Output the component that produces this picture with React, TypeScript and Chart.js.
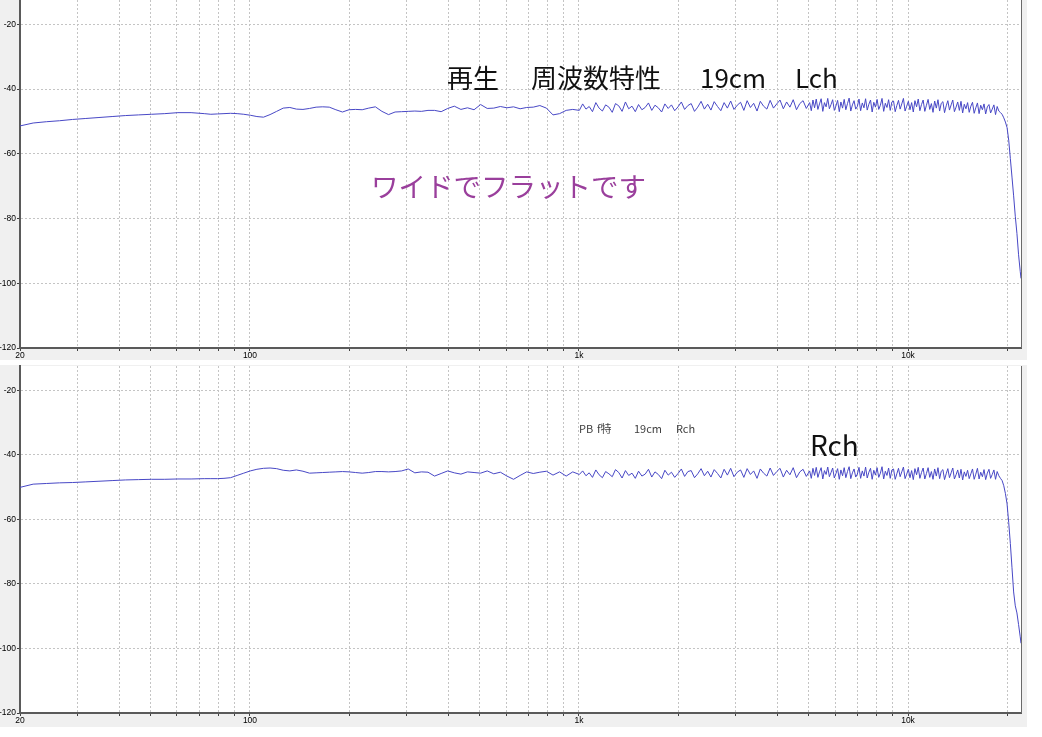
import React, { useEffect, useRef } from "react";
import { Chart, registerables } from "chart.js";

Chart.register(...registerables);

// Frequencies (Hz) shared by both channels
const FREQ_HZ = [
  20, 21.93, 24.05, 26.37, 28.91, 31.7, 34.76, 38.11, 41.79, 45.82, 50.24, 55.08, 60.4, 66.23, 72.62,
  76.04, 79.62, 83.37, 87.3, 91.42, 95.73, 100.24, 104.96, 109.91, 115.09, 120.51, 126.19, 132.14, 138.37,
  144.89, 151.72, 158.87, 166.35, 174.19, 182.4, 191, 200,
  209.4, 219.3, 229.6, 240.5, 251.8, 263.7, 276.1, 289.1, 302.7, 317,
  331.9, 347.6, 363.9, 381.1, 399.1, 417.9, 437.6, 458.2, 479.8, 502.4,
  526.1, 550.8, 576.8, 604, 632.5, 662.3, 693.5, 726.2, 760.4, 796.2,
  833.7, 873, 914.2, 957.3, 1002.4,
  1026, 1050, 1074, 1099, 1125, 1151, 1178, 1205, 1233, 1262,
  1291, 1321, 1352, 1384, 1416, 1449, 1483, 1517, 1553, 1589,
  1626, 1664, 1702, 1742, 1783, 1824, 1867, 1910, 1954, 2000,
  2047, 2094, 2143, 2193, 2244, 2296, 2350, 2405, 2461, 2518,
  2576, 2637, 2698, 2761, 2825, 2891, 2958, 3027, 3098, 3170,
  3244, 3319, 3396, 3476, 3557, 3639, 3724, 3811, 3900, 3991,
  4083, 4179, 4276, 4376, 4478, 4582, 4689, 4798, 4909, 5024,
  5082, 5141, 5200, 5261, 5322, 5383, 5445, 5508, 5572, 5637,
  5702, 5768, 5835, 5902, 5971, 6040, 6110, 6181, 6252, 6325,
  6398, 6472, 6547, 6623, 6699, 6777, 6855, 6935, 7015, 7096,
  7178, 7262, 7346, 7431, 7517, 7604, 7692, 7781, 7871, 7962,
  8054, 8148, 8242, 8337, 8434, 8532, 8630, 8730, 8831, 8934,
  9037, 9142, 9248, 9355, 9463, 9573, 9684, 9796, 9909, 10024,
  10140, 10257, 10376, 10496, 10618, 10741, 10865, 10991, 11118, 11247,
  11377, 11509, 11642, 11777, 11913, 12051, 12191, 12332, 12475, 12619,
  12765, 12913, 13063, 13214, 13367, 13522, 13678, 13837, 13997, 14159,
  14323, 14489, 14657, 14826, 14998, 15172, 15347, 15525, 15705, 15887,
  16071, 16257, 16445, 16635, 16828, 17023, 17220, 17419, 17621, 17825,
  18031, 18240, 18451, 18665, 18881, 19100,
  19321, 19545, 19771, 20000, 20232, 20466, 20703, 20942, 21185, 21430, 21678, 21930, 22050,
];

// Lch level (dB)
const LCH_DB = [
  -51.4, -50.5, -50.1, -49.8, -49.4, -49.1, -48.8, -48.5, -48.2, -48.0, -47.8, -47.6, -47.3, -47.3, -47.6,
  -47.8, -47.7, -47.6, -47.5, -47.6, -47.8, -48.1, -48.5, -48.7, -47.9, -46.9, -45.9, -45.7, -46.2,
  -46.3, -46.0, -45.6, -45.5, -45.6, -46.4, -47.1, -46.4,
  -46.3, -46.4, -45.9, -45.5, -46.9, -47.9, -47.1, -47.0, -46.9, -46.8,
  -46.9, -46.6, -46.6, -47.0, -46.0, -45.3, -46.3, -45.8, -46.4, -44.8,
  -46.0, -45.9, -45.4, -45.8, -45.5, -46.1, -45.7, -45.6, -45.1, -45.9,
  -48.0, -47.6, -46.6, -46.3, -46.6,
  -44.6, -46.2, -45.4, -47.0, -44.2, -45.9, -46.8, -44.9, -45.6, -47.2,
  -44.5, -45.2, -46.9, -44.0, -46.1, -45.3, -47.0, -44.8, -46.4, -45.7,
  -44.3, -46.6, -45.0, -45.8, -47.1, -44.6, -46.0, -44.9, -46.7, -45.5,
  -44.0, -46.3, -45.1, -44.5, -46.9, -45.6, -43.8, -46.2, -44.7, -46.5,
  -43.9, -45.4, -46.7, -44.2, -45.9, -43.7, -46.3, -45.0, -44.1, -46.6,
  -43.6, -45.7, -44.4, -46.8, -43.8, -45.3, -46.2, -43.5, -45.9, -44.6,
  -43.4, -46.1, -44.0, -45.6, -43.3, -46.4, -44.5, -43.6, -46.0, -44.2,
  -46.7, -43.4, -45.8, -43.1, -46.3, -44.6, -43.0, -46.9, -44.2, -45.5,
  -42.9, -46.1, -44.8, -43.3, -46.6, -45.2, -43.5, -47.0, -44.0, -45.9,
  -43.2, -46.4, -44.5, -42.8, -46.8, -44.9, -43.6, -46.2, -45.4, -43.1,
  -46.7, -44.3, -45.8, -43.0, -46.5, -44.7, -43.4, -47.1, -44.1, -45.6,
  -43.2, -46.3, -45.0, -42.9, -46.9, -44.4, -45.7, -43.3, -46.6, -44.0,
  -43.7, -47.0, -45.1, -43.5, -46.2, -44.6, -42.9, -46.8, -45.3, -43.8,
  -46.4, -44.2, -47.1, -43.6, -45.5, -43.1, -46.7, -44.8, -43.4, -46.9,
  -45.0, -43.2, -46.3, -44.5, -47.2, -43.7, -45.9, -43.3, -46.8, -44.4,
  -43.9, -47.3, -45.2, -43.6, -46.5, -44.9, -43.4, -47.0, -45.6, -44.0,
  -46.6, -43.8, -47.4, -44.7, -46.1, -44.2, -47.2, -45.3, -44.1, -47.5,
  -45.8, -44.3, -47.6, -45.0, -46.4, -44.6, -47.7, -45.5, -44.8, -47.4,
  -46.2, -44.9, -47.9, -45.4, -46.8, -47.3,
  -47.8, -48.9, -50.2, -51.9, -55.8, -61.5, -67.2, -73.0, -79.3, -84.6, -91.2, -96.3, -98.5,
];

// Rch level (dB)
const RCH_DB = [
  -50.1, -49.1, -48.9, -48.7, -48.6, -48.4, -48.2, -48.0, -47.8, -47.7, -47.6, -47.6, -47.5, -47.5, -47.4,
  -47.4, -47.4, -47.3, -47.1, -46.4, -45.7, -45.0, -44.5, -44.2, -44.1, -44.3, -44.8, -45.0, -44.7,
  -45.1, -45.7, -45.6, -45.5, -45.4, -45.3, -45.2, -45.3,
  -45.5, -45.7, -45.5, -45.2, -45.2, -45.3, -45.2, -45.0, -44.4, -45.6,
  -45.3, -45.4, -46.6, -45.8, -45.0, -45.6, -46.0, -45.3, -45.5, -45.7,
  -45.0, -45.9, -45.4, -46.6, -47.6, -46.4, -45.3, -45.8, -45.4, -45.1,
  -46.3, -45.3, -46.6, -45.3, -46.1,
  -45.0, -46.5, -45.6, -47.0, -44.7, -46.2, -47.1, -45.2, -45.9, -46.8,
  -44.6, -45.5, -47.2, -44.9, -46.4, -45.7, -47.3, -45.1, -46.6, -46.0,
  -44.5, -46.9, -45.3, -46.1, -47.4, -44.8, -46.3, -45.4, -47.0, -45.8,
  -44.4, -46.7, -45.2, -44.9, -47.1, -45.9, -44.3, -46.5, -45.1, -46.9,
  -44.6, -45.8, -47.2, -44.5, -46.3, -44.2, -46.8, -45.4, -44.7, -47.0,
  -44.3, -46.1, -45.0, -47.3, -44.4, -45.7, -46.6, -44.1, -46.4, -45.2,
  -44.2, -46.9, -44.8, -46.2, -44.0, -47.1, -45.3, -44.5, -46.7, -45.0,
  -47.3, -44.2, -46.4, -43.9, -47.0, -45.3, -44.0, -47.5, -44.9, -46.1,
  -43.8, -46.8, -45.5, -44.1, -47.2, -45.8, -44.3, -47.6, -44.7, -46.5,
  -44.0, -47.1, -45.2, -43.7, -47.4, -45.6, -44.4, -46.9, -46.0, -43.9,
  -47.3, -45.0, -46.6, -43.8, -47.2, -45.4, -44.2, -47.6, -44.8, -46.3,
  -44.0, -47.0, -45.7, -43.7, -47.5, -45.1, -46.4, -44.1, -47.3, -44.7,
  -44.4, -47.6, -45.9, -44.2, -46.8, -45.3, -43.8, -47.4, -46.0, -44.5,
  -47.1, -44.9, -47.7, -44.3, -46.2, -43.9, -47.3, -45.5, -44.1, -47.5,
  -45.8, -44.0, -47.0, -45.2, -47.6, -44.4, -46.6, -44.0, -47.4, -45.1,
  -44.6, -47.7, -45.9, -44.3, -47.1, -45.6, -44.1, -47.5, -46.2, -44.7,
  -47.2, -44.5, -47.8, -45.3, -46.7, -44.8, -47.4, -45.9, -44.4, -47.6,
  -46.0, -44.2, -47.5, -45.4, -46.8, -44.6, -47.7, -45.7, -44.5, -47.3,
  -46.1, -44.7, -47.6, -45.2, -46.5, -47.3,
  -48.0, -49.6, -52.0, -55.2, -61.0, -67.5, -75.0, -82.5, -86.8, -89.0, -92.6, -96.4, -98.4,
];

// Axis ticks / grid
const GRID_FREQS = [
  20, 30, 40, 50, 60, 70, 80, 90, 100, 200, 300, 400, 500, 600, 700, 800, 900,
  1000, 2000, 3000, 4000, 5000, 6000, 7000, 8000, 9000, 10000, 20000,
];
const X_LABEL_VALUES = [20, 100, 1000, 10000];
const X_LABEL_TEXT = ["20", "100", "1k", "10k"];
const Y_TICKS = [-120, -100, -80, -60, -40, -20];
const X_MIN = 20;
const X_MAX = 22050;
const Y_MIN = -120;
const Y_MAX = -12.5;

type Note = { text: string; x: number; y: number; size: number; color: string };

const CJK_FONT = '"Noto Sans CJK JP", "Noto Sans", sans-serif';

const TOP_NOTES: Note[] = [
  { text: "再生", x: 447, y: 88, size: 26, color: "#111111" },
  { text: "周波数特性", x: 531, y: 88, size: 26, color: "#111111" },
  { text: "19cm", x: 700, y: 88, size: 26, color: "#111111" },
  { text: "Lch", x: 795, y: 88, size: 26, color: "#111111" },
  { text: "ワイドでフラットです", x: 371, y: 197, size: 27.5, color: "#9a3f9c" },
];

const BOTTOM_NOTES: Note[] = [
  { text: "PB", x: 579, y: 68, size: 11, color: "#404040" },
  { text: "f特", x: 597, y: 68, size: 11, color: "#404040" },
  { text: "19cm", x: 634, y: 68, size: 11, color: "#404040" },
  { text: "Rch", x: 676, y: 68, size: 11, color: "#404040" },
  { text: "Rch", x: 810, y: 91, size: 28, color: "#111111" },
];

function makeChart(
  canvas: HTMLCanvasElement,
  values: number[],
  padTop: number,
  axisHeight: number,
  notes: Note[]
) {
  const points = FREQ_HZ.map((f, i) => ({ x: f, y: values[i] }));
  const panelPlugin = {
    id: "panel",
    beforeDraw(chart: any) {
      const { ctx, chartArea: a } = chart;
      ctx.save();
      ctx.fillStyle = "#ffffff";
      ctx.fillRect(a.left, a.top, a.right - a.left, a.bottom - a.top);
      ctx.restore();
    },
    afterDraw(chart: any) {
      const { ctx, chartArea: a } = chart;
      ctx.save();
      ctx.strokeStyle = "#6a6a6a";
      ctx.lineWidth = 1;
      ctx.beginPath();
      ctx.moveTo(Math.round(a.right) + 0.5, a.top);
      ctx.lineTo(Math.round(a.right) + 0.5, a.bottom);
      ctx.stroke();
      ctx.textAlign = "left";
      ctx.textBaseline = "alphabetic";
      for (const n of notes) {
        ctx.font = `${n.size}px ${CJK_FONT}`;
        ctx.fillStyle = n.color;
        ctx.fillText(n.text, n.x, n.y);
      }
      ctx.restore();
    },
  };

  const tickFont = { family: '"Liberation Sans", Arial, sans-serif', size: 8.5 };

  return new Chart(canvas, {
    type: "line",
    data: {
      datasets: [
        {
          data: points,
          borderColor: "#4848c6",
          borderWidth: 1,
          pointRadius: 0,
          tension: 0,
          fill: false,
          borderJoinStyle: "round",
        },
      ],
    },
    options: {
      animation: false,
      responsive: false,
      events: [],
      layout: { padding: { left: 0, right: 6, top: padTop, bottom: 0 } },
      plugins: { legend: { display: false }, tooltip: { enabled: false }, title: { display: false } },
      scales: {
        x: {
          type: "logarithmic",
          min: X_MIN,
          max: X_MAX,
          afterBuildTicks: (s: any) => {
            s.ticks = GRID_FREQS.map((v) => ({ value: v }));
          },
          afterFit: (s: any) => {
            s.height = axisHeight;
            s.paddingLeft = 0;
            s.paddingRight = 0;
          },
          ticks: {
            autoSkip: false,
            maxRotation: 0,
            minRotation: 0,
            padding: 0,
            color: "#000000",
            font: tickFont,
            callback: (v: any) => {
              const i = X_LABEL_VALUES.indexOf(Number(v));
              return i >= 0 ? X_LABEL_TEXT[i] : "";
            },
          },
          grid: { color: "#c4c4c4", lineWidth: 1, tickLength: 3, tickColor: "#404040" },
          border: { display: true, color: "#5a5a5a", width: 2, dash: [2, 2] },
        },
        y: {
          type: "linear",
          min: Y_MIN,
          max: Y_MAX,
          afterBuildTicks: (s: any) => {
            s.ticks = Y_TICKS.map((v) => ({ value: v }));
          },
          afterFit: (s: any) => {
            s.width = 20;
            s.paddingTop = 0;
            s.paddingBottom = 0;
          },
          ticks: {
            padding: 1,
            color: "#000000",
            font: tickFont,
            callback: (v: any) => String(v),
          },
          grid: { color: "#c4c4c4", lineWidth: 1, tickLength: 3, tickColor: "#404040" },
          border: { display: true, color: "#5a5a5a", width: 2, dash: [2, 2] },
        },
      },
    },
    plugins: [panelPlugin],
  } as any);
}

export default function App() {
  const topRef = useRef<HTMLCanvasElement>(null);
  const bottomRef = useRef<HTMLCanvasElement>(null);

  useEffect(() => {
    const c1 = makeChart(topRef.current!, LCH_DB, 0, 12, TOP_NOTES);
    const c2 = makeChart(bottomRef.current!, RCH_DB, 1, 14, BOTTOM_NOTES);
    return () => {
      c1.destroy();
      c2.destroy();
    };
  }, []);

  return (
    <div
      style={{
        position: "absolute",
        left: 0,
        top: 0,
        width: 1042,
        height: 737,
        background: "#ffffff",
        overflow: "hidden",
      }}
    >
      <div style={{ position: "absolute", left: 0, top: 0, width: 1027, height: 360, background: "#f0f0f0" }}>
        <canvas ref={topRef} width={1027} height={360} style={{ display: "block" }} />
      </div>
      <div style={{ position: "absolute", left: 0, top: 365, width: 1027, height: 362, background: "#f0f0f0" }}>
        <canvas ref={bottomRef} width={1027} height={362} style={{ display: "block" }} />
      </div>
    </div>
  );
}
